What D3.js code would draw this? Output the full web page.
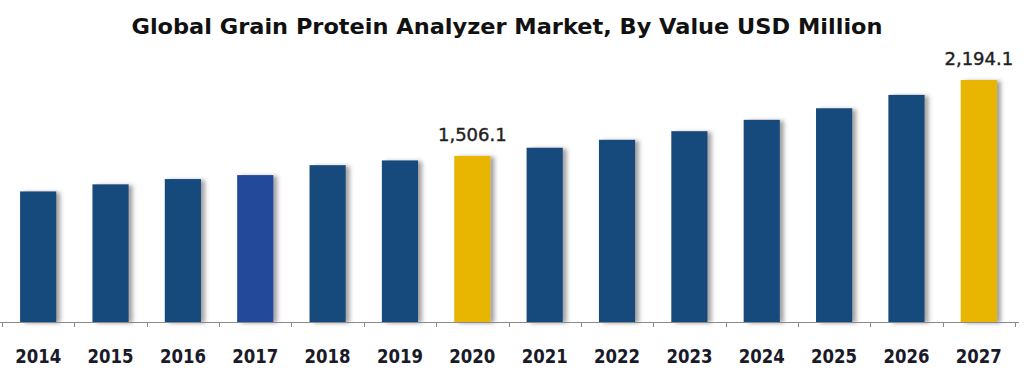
<!DOCTYPE html>
<html>
<head>
<meta charset="utf-8">
<script src="https://cdn.jsdelivr.net/npm/d3@7/dist/d3.min.js"></script>
<style>
html,body{margin:0;padding:0;background:#fff;}
svg{display:block;}
</style>
</head>
<body>
<svg id="chart" width="1024" height="383"></svg>
<script>
const years = ["2014","2015","2016","2017","2018","2019","2020","2021","2022","2023","2024","2025","2026","2027"];
const values = [1184, 1248, 1296, 1332, 1422, 1465, 1506.1, 1580, 1652, 1730, 1833, 1938, 2059, 2194.1];
const labelled = ["2020", "2027"];
const highlight = ["2020", "2027"];
const brighter = ["2017"];
const titleText = "Global Grain Protein Analyzer Market, By Value USD Million";

const svg = d3.select("#chart");
const baseY = 322;

const defs = svg.append("defs");
const f = defs.append("filter").attr("id","shadow").attr("x","-20%").attr("y","-10%").attr("width","160%").attr("height","120%");
f.append("feDropShadow").attr("dx",4).attr("dy",1).attr("stdDeviation",2).attr("flood-color","#555").attr("flood-opacity",0.55);

const x = d3.scaleBand().domain(years).range([2, 1015]).paddingInner(0.5).paddingOuter(0.25);
const y = d3.scaleLinear().domain([0, 2194.1]).range([baseY, 80]);

svg.append("text")
  .attr("x", 507).attr("y", 34)
  .attr("text-anchor","middle")
  .attr("font-family","DejaVu Sans, Verdana, sans-serif")
  .attr("font-weight","bold").attr("font-size",22)
  .attr("textLength",751).attr("lengthAdjust","spacingAndGlyphs")
  .attr("fill","#111")
  .text(titleText);

svg.append("g").selectAll("rect").data(years).join("rect")
  .attr("x", d => x(d))
  .attr("y", (d,i) => y(values[i]))
  .attr("width", x.bandwidth())
  .attr("height", (d,i) => baseY - y(values[i]))
  .attr("fill", d => highlight.includes(d) ? "#e8b600" : (brighter.includes(d) ? "#23489a" : "#174a7c"))
  .attr("filter","url(#shadow)");

svg.append("g").selectAll("text").data(years.filter(d => labelled.includes(d))).join("text")
  .attr("x", d => x(d) + x.bandwidth()/2)
  .attr("y", d => y(values[years.indexOf(d)]) - 15)
  .attr("text-anchor","middle")
  .attr("font-family","DejaVu Sans, Verdana, sans-serif")
  .attr("font-size",18)
  .attr("fill","#222").attr("stroke","#222").attr("stroke-width",0.4)
  .text(d => d3.format(",.1f")(values[years.indexOf(d)]));

// axis
const step = x.step();
const xAxis = d3.axisBottom(x).tickSize(0).tickPadding(0);
const ag = svg.append("g").attr("transform", `translate(0,${baseY})`).call(xAxis);
ag.select(".domain").remove();
ag.selectAll(".tick text")
  .attr("y", 41).attr("dy", 0)
  .attr("font-family","DejaVu Sans, Verdana, sans-serif")
  .attr("font-weight","bold").attr("font-size",19)
  .attr("textLength",46).attr("lengthAdjust","spacingAndGlyphs")
  .attr("fill","#1a1a2a");
ag.append("line").attr("x1",0).attr("x2",1019).attr("y1",0.5).attr("y2",0.5).attr("stroke","#8a8a8a").attr("stroke-width",1);
const bounds = d3.range(years.length + 1).map(i => x.range()[0] + i * step);
ag.selectAll(".bnd").data(bounds).join("line").attr("class","bnd")
  .attr("x1", d => Math.round(d)+0.5).attr("x2", d => Math.round(d)+0.5)
  .attr("y1",0).attr("y2",5)
  .attr("stroke","#8a8a8a");
</script>
</body>
</html>
